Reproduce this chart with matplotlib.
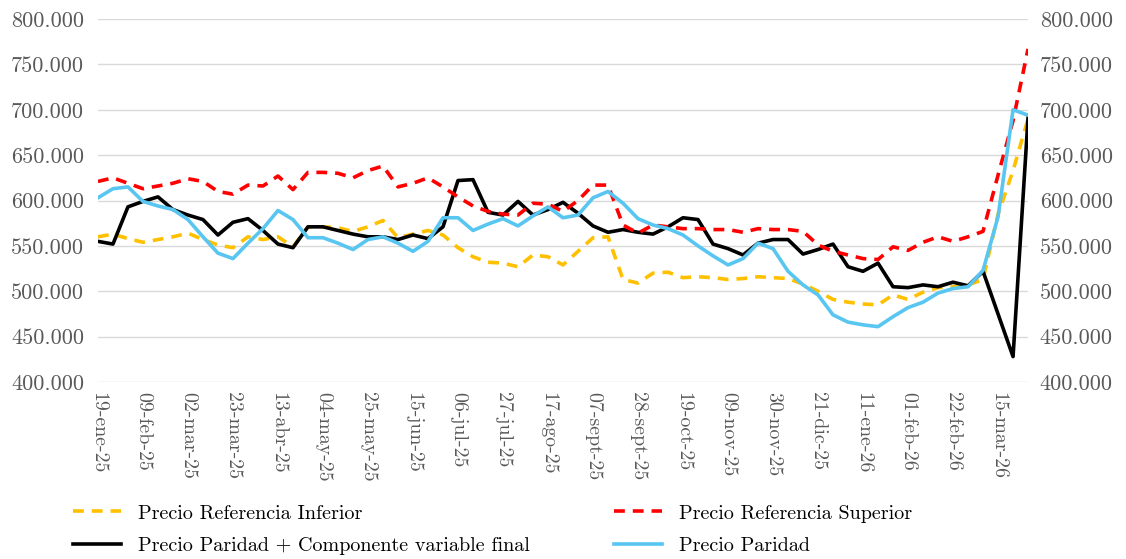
import numpy as np
import pandas as pd
import matplotlib
matplotlib.use('Agg')
import matplotlib.pyplot as plt
from matplotlib.ticker import FuncFormatter

plt.rcParams['font.family'] = ['cmr10', 'DejaVu Serif']
plt.rcParams['axes.formatter.use_mathtext'] = True

# weekly series, starting 19-ene-25
start_date = '2025-01-19'
n_weeks = 63

precio_inferior = [560, 563, 558, 554, 557, 560, 564, 557, 551, 548, 560, 557, 560, 549,
                   571, 571, 570, 566, 571, 578, 559, 563, 567, 562, 548, 538, 532, 531,
                   527, 540, 538, 529, 544, 559, 560, 513, 509, 520, 521, 515, 516, 515,
                   513, 514, 516, 515, 514, 508, 500, 491, 488, 486, 485, 496, 491, 499,
                   504, 505, 507, 513, 585, 633, 690]
precio_superior = [621, 625, 619, 613, 616, 619, 624, 621, 610, 607, 617, 616, 627, 612,
                   631, 631, 630, 625, 633, 638, 615, 619, 625, 615, 604, 594, 588, 585,
                   584, 597, 596, 588, 600, 617, 617, 573, 564, 573, 571, 569, 569, 568,
                   568, 565, 569, 568, 568, 566, 551, 544, 540, 536, 535, 549, 545, 554,
                   560, 555, 560, 566, 628, 688, 767]
precio_paridad_comp = [555, 552, 593, 599, 604, 590, 584, 579, 562, 576, 580, 567, 552, 548,
                       571, 571, 567, 563, 560, 560, 557, 562, 558, 571, 622, 623, 587, 584,
                       599, 584, 590, 598, 586, 572, 565, 568, 565, 563, 571, 581, 579, 552,
                       547, 540, 553, 557, 557, 541, 546, 552, 527, 522, 531, 505, 504, 507,
                       505, 510, 506, 522, 475, 428, 691]
precio_paridad = [603, 613, 615, 599, 594, 590, 579, 560, 542, 536, 553, 569, 589, 579,
                  559, 559, 553, 546, 557, 560, 553, 544, 555, 581, 581, 567, 574, 580,
                  572, 583, 593, 581, 584, 603, 610, 597, 580, 573, 569, 562, 550, 539,
                  529, 536, 553, 547, 522, 507, 496, 474, 466, 463, 461, 472, 482, 488,
                  498, 503, 505, 523, 582, 700, 694]

meses = ['ene', 'feb', 'mar', 'abr', 'may', 'jun', 'jul', 'ago', 'sept', 'oct', 'nov', 'dic']

fechas = pd.date_range(start_date, periods=n_weeks, freq='7D')
etiquetas = ['%02d-%s-%s' % (d.day, meses[d.month - 1], str(d.year)[2:]) for d in fechas]
x = np.arange(n_weeks)

fig = plt.figure(figsize=(11.26, 5.59), dpi=100)
ax = fig.add_axes([0.087, 0.3166, 0.826, 0.6494])

ax.plot(x, np.array(precio_inferior) * 1000, color='#FFC000', lw=2.6, ls=(0, (3, 2.2)),
        label='Precio Referencia Inferior')
ax.plot(x, np.array(precio_paridad_comp) * 1000, color='black', lw=2.6,
        label='Precio Paridad + Componente variable final')
ax.plot(x, np.array(precio_superior) * 1000, color='#FF0000', lw=2.6, ls=(0, (3, 2.2)),
        label='Precio Referencia Superior')
ax.plot(x, np.array(precio_paridad) * 1000, color='#58C6F0', lw=2.6,
        label='Precio Paridad')

ax.set_xlim(0, n_weeks - 1)
ax.set_ylim(400000, 800000)
ax.set_yticks(np.arange(400000, 800001, 50000))
fmt = FuncFormatter(lambda v, p: '{:,.0f}'.format(v).replace(',', '.'))
ax.yaxis.set_major_formatter(fmt)
ax.grid(axis='y', color='#d9d9d9', lw=1)
ax.set_axisbelow(True)

ax.set_xticks(x[::3])
ax.set_xticklabels(etiquetas[::3], rotation=-90)
ax.tick_params(length=0, labelsize=16, labelcolor='#595959')
ax.tick_params(axis='y', pad=10)
ax.tick_params(axis='x', pad=7, labelsize=14.3)
for s in ax.spines.values():
    s.set_visible(False)

ax2 = ax.twinx()
ax2.set_ylim(ax.get_ylim())
ax2.set_yticks(ax.get_yticks())
ax2.yaxis.set_major_formatter(fmt)
ax2.tick_params(length=0, labelsize=16, labelcolor='#595959', pad=8.5)
for s in ax2.spines.values():
    s.set_visible(False)

handles, labels = ax.get_legend_handles_labels()
fig.legend(handles, labels, ncol=2, loc='upper left', bbox_to_anchor=(0.058, 0.112),
           frameon=False, fontsize=14.5, handlelength=2.35, handletextpad=0.85,
           columnspacing=4.2, labelspacing=0.72, borderaxespad=0)

fig.savefig('out.png', dpi=100)
